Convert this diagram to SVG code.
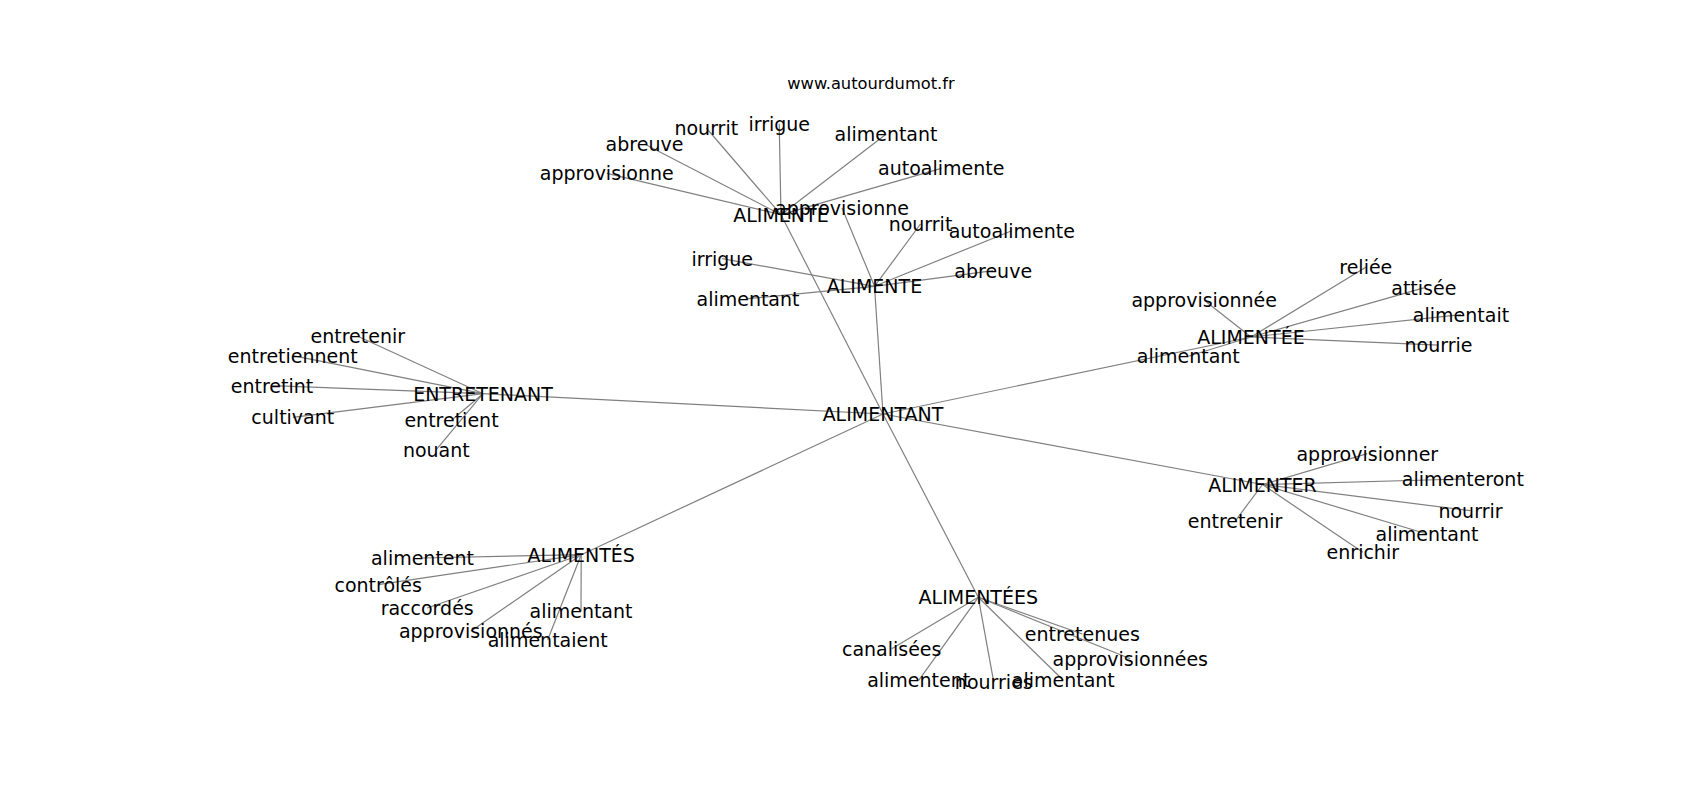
<svg xmlns="http://www.w3.org/2000/svg" width="1700" height="800" viewBox="0 0 1700 800">
<style>
  .e { stroke: #808080; stroke-width: 1.2; fill: none; }
  text { font-family: "DejaVu Sans", "Liberation Sans", sans-serif; fill: #000; text-anchor: middle; }
  .n text { font-size: 19px; }
  .t { font-size: 16.3px; }
</style>
<rect width="1700" height="800" fill="#ffffff"/>
<text class="t" x="871" y="89">www.autourdumot.fr</text>
<g id="edges">
  <line class="e" x1="883" y1="414" x2="781" y2="214.7"/>
  <line class="e" x1="883" y1="414" x2="874.5" y2="286.3"/>
  <line class="e" x1="883" y1="414" x2="483" y2="393.7"/>
  <line class="e" x1="883" y1="414" x2="581.2" y2="554.7"/>
  <line class="e" x1="883" y1="414" x2="978.3" y2="597.3"/>
  <line class="e" x1="883" y1="414" x2="1251" y2="337"/>
  <line class="e" x1="883" y1="414" x2="1262.5" y2="484.5"/>
  <line class="e" x1="781" y1="214.7" x2="606.8" y2="173.3"/>
  <line class="e" x1="781" y1="214.7" x2="644.5" y2="144"/>
  <line class="e" x1="781" y1="214.7" x2="706.3" y2="128"/>
  <line class="e" x1="781" y1="214.7" x2="779.2" y2="123.7"/>
  <line class="e" x1="781" y1="214.7" x2="886" y2="134.3"/>
  <line class="e" x1="781" y1="214.7" x2="941.2" y2="168.3"/>
  <line class="e" x1="874.5" y1="286.3" x2="842" y2="208"/>
  <line class="e" x1="874.5" y1="286.3" x2="920.5" y2="224"/>
  <line class="e" x1="874.5" y1="286.3" x2="1011.8" y2="230.7"/>
  <line class="e" x1="874.5" y1="286.3" x2="993.2" y2="270.7"/>
  <line class="e" x1="874.5" y1="286.3" x2="722.2" y2="258.7"/>
  <line class="e" x1="874.5" y1="286.3" x2="748" y2="298.7"/>
  <line class="e" x1="483" y1="393.7" x2="357.8" y2="336.3"/>
  <line class="e" x1="483" y1="393.7" x2="292.8" y2="355.7"/>
  <line class="e" x1="483" y1="393.7" x2="272" y2="385.7"/>
  <line class="e" x1="483" y1="393.7" x2="292.8" y2="417.3"/>
  <line class="e" x1="483" y1="393.7" x2="451.5" y2="420.3"/>
  <line class="e" x1="483" y1="393.7" x2="436.3" y2="449.7"/>
  <line class="e" x1="581.2" y1="554.7" x2="422.5" y2="558"/>
  <line class="e" x1="581.2" y1="554.7" x2="378.2" y2="584.7"/>
  <line class="e" x1="581.2" y1="554.7" x2="427.2" y2="608"/>
  <line class="e" x1="581.2" y1="554.7" x2="470.8" y2="631.3"/>
  <line class="e" x1="581.2" y1="554.7" x2="547.7" y2="639.7"/>
  <line class="e" x1="581.2" y1="554.7" x2="581" y2="611.3"/>
  <line class="e" x1="978.3" y1="597.3" x2="891.7" y2="648.7"/>
  <line class="e" x1="978.3" y1="597.3" x2="918.7" y2="680.3"/>
  <line class="e" x1="978.3" y1="597.3" x2="993.8" y2="682.3"/>
  <line class="e" x1="978.3" y1="597.3" x2="1063.3" y2="680.3"/>
  <line class="e" x1="978.3" y1="597.3" x2="1082.3" y2="634"/>
  <line class="e" x1="978.3" y1="597.3" x2="1130.3" y2="658.7"/>
  <line class="e" x1="1251" y1="337" x2="1365.8" y2="267.3"/>
  <line class="e" x1="1251" y1="337" x2="1423.8" y2="287.8"/>
  <line class="e" x1="1251" y1="337" x2="1204.2" y2="300.3"/>
  <line class="e" x1="1251" y1="337" x2="1461" y2="314.7"/>
  <line class="e" x1="1251" y1="337" x2="1438.5" y2="345.2"/>
  <line class="e" x1="1251" y1="337" x2="1188.3" y2="356.3"/>
  <line class="e" x1="1262.5" y1="484.5" x2="1367.3" y2="453.7"/>
  <line class="e" x1="1262.5" y1="484.5" x2="1462.8" y2="479"/>
  <line class="e" x1="1262.5" y1="484.5" x2="1470.5" y2="510.7"/>
  <line class="e" x1="1262.5" y1="484.5" x2="1427" y2="534"/>
  <line class="e" x1="1262.5" y1="484.5" x2="1362.8" y2="552.3"/>
  <line class="e" x1="1262.5" y1="484.5" x2="1235" y2="521.3"/>
</g>
<g class="n">
  <g id="n-alimentant"><text x="883" y="421">ALIMENTANT</text></g>
  <g id="n-alimente-1"><text x="781" y="221.7">ALIMENTE</text></g>
  <g id="n-alimente-2"><text x="874.5" y="293.3">ALIMENTE</text></g>
  <g id="n-entretenant"><text x="483" y="400.7">ENTRETENANT</text></g>
  <g id="n-alimentes"><text x="581.2" y="561.7">ALIMENTÉS</text></g>
  <g id="n-alimentees"><text x="978.3" y="604.3">ALIMENTÉES</text></g>
  <g id="n-alimentee"><text x="1251" y="344">ALIMENTÉE</text></g>
  <g id="n-alimenter"><text x="1262.5" y="491.5">ALIMENTER</text></g>

  <g id="a1-approvisionne"><text x="606.8" y="180.3">approvisionne</text></g>
  <g id="a1-abreuve"><text x="644.5" y="151">abreuve</text></g>
  <g id="a1-nourrit"><text x="706.3" y="135">nourrit</text></g>
  <g id="a1-irrigue"><text x="779.2" y="130.7">irrigue</text></g>
  <g id="a1-alimentant"><text x="886" y="141.3">alimentant</text></g>
  <g id="a1-autoalimente"><text x="941.2" y="175.3">autoalimente</text></g>

  <g id="a2-approvisionne"><text x="842" y="215">approvisionne</text></g>
  <g id="a2-nourrit"><text x="920.5" y="231">nourrit</text></g>
  <g id="a2-autoalimente"><text x="1011.8" y="237.7">autoalimente</text></g>
  <g id="a2-abreuve"><text x="993.2" y="277.7">abreuve</text></g>
  <g id="a2-irrigue"><text x="722.2" y="265.7">irrigue</text></g>
  <g id="a2-alimentant"><text x="748" y="305.7">alimentant</text></g>

  <g id="e-entretenir"><text x="357.8" y="343.3">entretenir</text></g>
  <g id="e-entretiennent"><text x="292.8" y="362.7">entretiennent</text></g>
  <g id="e-entretint"><text x="272" y="392.7">entretint</text></g>
  <g id="e-cultivant"><text x="292.8" y="424.3">cultivant</text></g>
  <g id="e-entretient"><text x="451.5" y="427.3">entretient</text></g>
  <g id="e-nouant"><text x="436.3" y="456.7">nouant</text></g>

  <g id="s-alimentent"><text x="422.5" y="565">alimentent</text></g>
  <g id="s-controles"><text x="378.2" y="591.7">contrôlés</text></g>
  <g id="s-raccordes"><text x="427.2" y="615">raccordés</text></g>
  <g id="s-approvisionnes"><text x="470.8" y="638.3">approvisionnés</text></g>
  <g id="s-alimentaient"><text x="547.7" y="646.7">alimentaient</text></g>
  <g id="s-alimentant"><text x="581" y="618.3">alimentant</text></g>

  <g id="es-canalisees"><text x="891.7" y="655.7">canalisées</text></g>
  <g id="es-alimentent"><text x="918.7" y="687.3">alimentent</text></g>
  <g id="es-nourries"><text x="993.8" y="689.3">nourries</text></g>
  <g id="es-alimentant"><text x="1063.3" y="687.3">alimentant</text></g>
  <g id="es-entretenues"><text x="1082.3" y="641">entretenues</text></g>
  <g id="es-approvisionnees"><text x="1130.3" y="665.7">approvisionnées</text></g>

  <g id="ee-reliee"><text x="1365.8" y="274.3">reliée</text></g>
  <g id="ee-attisee"><text x="1423.8" y="294.8">attisée</text></g>
  <g id="ee-approvisionnee"><text x="1204.2" y="307.3">approvisionnée</text></g>
  <g id="ee-alimentait"><text x="1461" y="321.7">alimentait</text></g>
  <g id="ee-nourrie"><text x="1438.5" y="352.2">nourrie</text></g>
  <g id="ee-alimentant"><text x="1188.3" y="363.3">alimentant</text></g>

  <g id="r-approvisionner"><text x="1367.3" y="460.7">approvisionner</text></g>
  <g id="r-alimenteront"><text x="1462.8" y="486">alimenteront</text></g>
  <g id="r-nourrir"><text x="1470.5" y="517.7">nourrir</text></g>
  <g id="r-alimentant"><text x="1427" y="541">alimentant</text></g>
  <g id="r-enrichir"><text x="1362.8" y="559.3">enrichir</text></g>
  <g id="r-entretenir"><text x="1235" y="528.3">entretenir</text></g>
</g>
</svg>
